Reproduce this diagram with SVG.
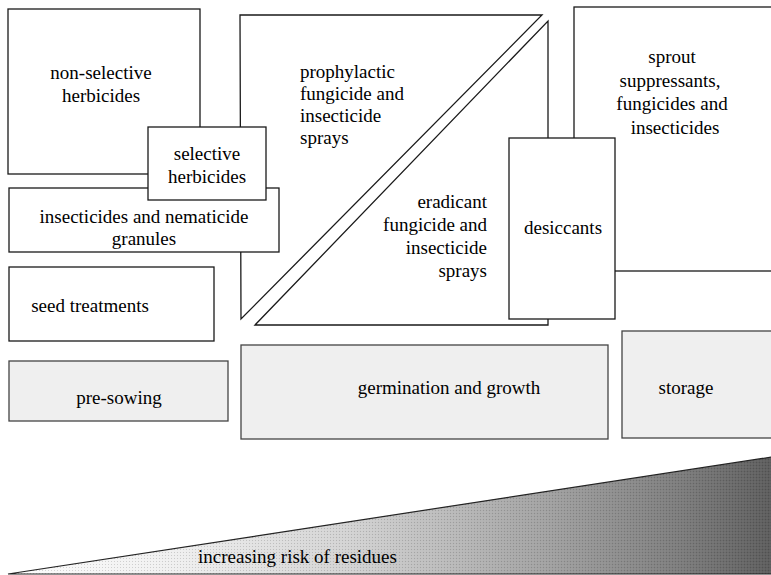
<svg xmlns="http://www.w3.org/2000/svg" width="771" height="575" viewBox="0 0 771 575">
<style>
.b{fill:#fff;stroke:#1a1a1a;stroke-width:1.3}
.s{fill:#efefef;stroke:#444;stroke-width:1.3}
</style>
<defs>
<linearGradient id="g" x1="0" y1="0" x2="1" y2="0">
<stop offset="0" stop-color="#fdfdfd"/>
<stop offset="0.22" stop-color="#efefef"/>
<stop offset="0.45" stop-color="#d2d2d2"/>
<stop offset="0.7" stop-color="#a2a2a2"/>
<stop offset="0.88" stop-color="#7c7c7c"/>
<stop offset="1" stop-color="#5c5c5c"/>
</linearGradient>
<pattern id="d" width="3" height="3" patternUnits="userSpaceOnUse">
<rect x="0" y="0" width="1" height="1" fill="#000" opacity="0.15"/>
<rect x="1.5" y="1.5" width="1" height="1" fill="#fff" opacity="0.15"/>
</pattern>
</defs>
<rect width="771" height="575" fill="#fff"/>
<g id="prophylactic">
<polygon class="b" points="240,15 542,15 241,319"/>
<text x="300" y="78" style="font-family:'Times New Roman','Liberation Serif',Tinos,serif;font-size:19px">prophylactic</text>
<text x="300" y="100" style="font-family:'Times New Roman','Liberation Serif',Tinos,serif;font-size:19px">fungicide and</text>
<text x="300" y="122" style="font-family:'Times New Roman','Liberation Serif',Tinos,serif;font-size:19px">insecticide</text>
<text x="300" y="144" style="font-family:'Times New Roman','Liberation Serif',Tinos,serif;font-size:19px">sprays</text>
</g>
<g id="eradicant">
<polygon class="b" points="548,21 548,325 255,325"/>
<text x="487" y="208" text-anchor="end" style="font-family:'Times New Roman','Liberation Serif',Tinos,serif;font-size:19px">eradicant</text>
<text x="487" y="231" text-anchor="end" style="font-family:'Times New Roman','Liberation Serif',Tinos,serif;font-size:19px">fungicide and</text>
<text x="487" y="254" text-anchor="end" style="font-family:'Times New Roman','Liberation Serif',Tinos,serif;font-size:19px">insecticide</text>
<text x="487" y="277" text-anchor="end" style="font-family:'Times New Roman','Liberation Serif',Tinos,serif;font-size:19px">sprays</text>
</g>
<g id="non-selective">
<rect class="b" x="8" y="9" width="192" height="165"/>
<text x="101" y="79" text-anchor="middle" style="font-family:'Times New Roman','Liberation Serif',Tinos,serif;font-size:19px">non-selective</text>
<text x="101" y="102" text-anchor="middle" style="font-family:'Times New Roman','Liberation Serif',Tinos,serif;font-size:19px">herbicides</text>
</g>
<g id="insecticides">
<rect class="b" x="9" y="188" width="270" height="64"/>
<text x="144" y="223" text-anchor="middle" style="font-family:'Times New Roman','Liberation Serif',Tinos,serif;font-size:19px">insecticides and nematicide</text>
<text x="144" y="245" text-anchor="middle" style="font-family:'Times New Roman','Liberation Serif',Tinos,serif;font-size:19px">granules</text>
</g>
<g id="selective">
<rect class="b" x="148" y="127" width="118" height="73"/>
<text x="207" y="160" text-anchor="middle" style="font-family:'Times New Roman','Liberation Serif',Tinos,serif;font-size:19px">selective</text>
<text x="207" y="183" text-anchor="middle" style="font-family:'Times New Roman','Liberation Serif',Tinos,serif;font-size:19px">herbicides</text>
</g>
<g id="seed">
<rect class="b" x="9" y="267" width="205" height="74"/>
<text x="90" y="312" text-anchor="middle" style="font-family:'Times New Roman','Liberation Serif',Tinos,serif;font-size:19px">seed treatments</text>
</g>
<g id="sprout">
<rect class="b" x="574" y="7" width="200" height="264"/>
<text x="672" y="63" text-anchor="middle" style="font-family:'Times New Roman','Liberation Serif',Tinos,serif;font-size:19px">sprout</text>
<text x="670" y="87" text-anchor="middle" style="font-family:'Times New Roman','Liberation Serif',Tinos,serif;font-size:19px">suppressants,</text>
<text x="672" y="110" text-anchor="middle" style="font-family:'Times New Roman','Liberation Serif',Tinos,serif;font-size:19px">fungicides and</text>
<text x="675" y="134" text-anchor="middle" style="font-family:'Times New Roman','Liberation Serif',Tinos,serif;font-size:19px">insecticides</text>
</g>
<g id="desiccants">
<rect class="b" x="509" y="138" width="106" height="181"/>
<text x="563" y="234" text-anchor="middle" style="font-family:'Times New Roman','Liberation Serif',Tinos,serif;font-size:19px">desiccants</text>
</g>
<g id="pre-sowing">
<rect class="s" x="9" y="361" width="219" height="60"/>
<text x="119" y="404" text-anchor="middle" style="font-family:'Times New Roman','Liberation Serif',Tinos,serif;font-size:19px">pre-sowing</text>
</g>
<g id="germination">
<rect class="s" x="241" y="345" width="367" height="94"/>
<text x="449" y="394" text-anchor="middle" style="font-family:'Times New Roman','Liberation Serif',Tinos,serif;font-size:19px">germination and growth</text>
</g>
<g id="storage">
<rect class="s" x="622" y="331" width="152" height="107"/>
<text x="686" y="394" text-anchor="middle" style="font-family:'Times New Roman','Liberation Serif',Tinos,serif;font-size:19px">storage</text>
</g>
<g id="risk">
<polygon points="8,574 772,457 772,574" fill="url(#g)" stroke="#222" stroke-width="1.2"/>
<polygon points="8,574 772,457 772,574" fill="url(#d)"/>
<text x="198" y="563" style="font-family:'Times New Roman','Liberation Serif',Tinos,serif;font-size:19px">increasing risk of residues</text>
</g>
<g id="connectors"></g>
</svg>
